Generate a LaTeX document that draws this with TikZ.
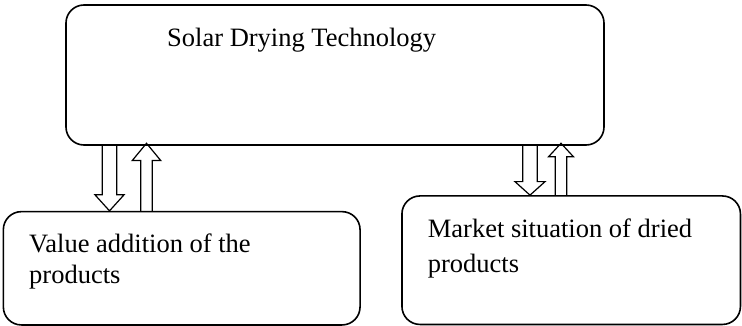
\documentclass[tikz,border=0pt]{standalone}
\usepackage{fontspec}
\setmainfont{Liberation Serif}
\usepackage{tikz}
\usetikzlibrary{ positioning, arrows.meta, calc }

% hollow block arrow: start, tip, shaft half width, head half width, head length
\newcommand{\blockarrow}[5]{%
  \path ($(#2)!#5!(#1)$) coordinate (ab);
  \draw[arrowline] ($(#1)!#3!90:(#2)$) -- ($(ab)!#3!90:(#2)$) -- ($(ab)!#4!90:(#2)$)
    -- (#2) -- ($(ab)!#4!-90:(#2)$) -- ($(ab)!#3!-90:(#2)$) -- ($(#1)!#3!-90:(#2)$);
}

\begin{document}
\begin{tikzpicture}[x=1pt, y=-1pt,
  every node/.style={font=\fontsize{26.5}{31.5}\selectfont},
  box/.style={draw, line width=1.6pt, rounded corners=18pt, inner sep=0pt},
  txt/.style={inner sep=0pt, align=left},
  arrowline/.style={line width=1.2pt, line join=miter}]
  \useasboundingbox (0,0) rectangle (742,326);

  % boxes
  \node[box, minimum width=538pt, minimum height=140pt] (tech) at (335,75) {};
  \node[box, minimum width=356.7pt, minimum height=113.3pt] (value) at (181.7,268.3) {};
  \node[box, minimum width=338.5pt, minimum height=128.5pt] (market) at (571.2,260.2) {};

  % labels
  \node[txt, anchor=base west] (techtxt) at (167,46.7) {Solar Drying Technology};
  \node[txt, anchor=north west] (valuetxt) at (29,233.6) {Value addition of the\\products};
  \node[txt, anchor=north west] (markettxt) at (427.7,218.6) {Market situation of dried\\[3.5pt]products};

  % arrow ends on the box borders
  \coordinate (vdown0) at (109.5,0 |- tech.south);
  \coordinate (vdown1) at (109.5,0 |- value.north);
  \coordinate (vup0) at (146.5,0 |- value.north);
  \coordinate (vup1) at ($(146.5,0 |- tech.south)+(0,-2.5)$);
  \coordinate (mdown0) at (530,0 |- tech.south);
  \coordinate (mdown1) at (530,0 |- market.north);
  \coordinate (mup0) at (561,0 |- market.north);
  \coordinate (mup1) at ($(561,0 |- tech.south)+(0,-2.5)$);

  % arrows to and from the left box
  \blockarrow{vdown0}{vdown1}{7.2pt}{14.5pt}{16pt}
  \blockarrow{vup0}{vup1}{5.8pt}{14.3pt}{17.3pt}

  % arrows to and from the right box
  \blockarrow{mdown0}{mdown1}{7.3pt}{15pt}{13.5pt}
  \blockarrow{mup0}{mup1}{5.8pt}{12.5pt}{13.5pt}
\end{tikzpicture}
\end{document}
